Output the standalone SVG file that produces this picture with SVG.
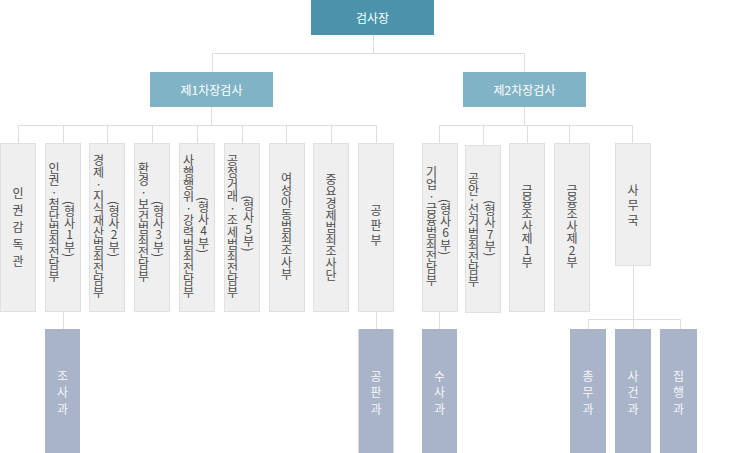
<svg xmlns="http://www.w3.org/2000/svg" width="743" height="453" viewBox="0 0 743 453">
<style>
.top{fill:#4a93aa}
.mid{fill:#7fb3c5}
.lv3{fill:#efefef;stroke:#e0e0e0;stroke-width:1}
.sub{fill:#a9b4c9}
.con line{stroke:#dddddd;stroke-width:1}
.ht{font-family:"Noto Sans CJK KR","Noto Sans",sans-serif;font-size:12px;fill:#ffffff;text-anchor:middle;dominant-baseline:central}
.vt{font-family:"Noto Sans CJK KR","Noto Sans",sans-serif;font-size:12px;fill:#4d4d4d;text-anchor:middle;writing-mode:vertical-rl;text-orientation:mixed}
.up{text-orientation:upright}
.vw{fill:#f4f6f9}
</style>
<g class="con" id="connectors">
<line x1="373.5" y1="35" x2="373.5" y2="53.5"/>
<line x1="212.5" y1="53.5" x2="524.5" y2="53.5"/>
<line x1="212.5" y1="53.5" x2="212.5" y2="72"/>
<line x1="524.5" y1="53.5" x2="524.5" y2="72"/>
<line x1="211.5" y1="107" x2="211.5" y2="125.5"/>
<line x1="18.5" y1="125.5" x2="376.5" y2="125.5"/>
<line x1="18.5" y1="125.5" x2="18.5" y2="143"/>
<line x1="63.5" y1="125.5" x2="63.5" y2="143"/>
<line x1="107.5" y1="125.5" x2="107.5" y2="143"/>
<line x1="152.5" y1="125.5" x2="152.5" y2="143"/>
<line x1="197.5" y1="125.5" x2="197.5" y2="143"/>
<line x1="242.5" y1="125.5" x2="242.5" y2="143"/>
<line x1="286.5" y1="125.5" x2="286.5" y2="143"/>
<line x1="331.5" y1="125.5" x2="331.5" y2="143"/>
<line x1="376.5" y1="125.5" x2="376.5" y2="143"/>
<line x1="524.5" y1="107" x2="524.5" y2="125.5"/>
<line x1="439.5" y1="125.5" x2="632.5" y2="125.5"/>
<line x1="439.5" y1="125.5" x2="439.5" y2="143"/>
<line x1="483.5" y1="125.5" x2="483.5" y2="145"/>
<line x1="527.5" y1="125.5" x2="527.5" y2="143"/>
<line x1="569.5" y1="125.5" x2="569.5" y2="143"/>
<line x1="632.5" y1="125.5" x2="632.5" y2="143"/>
<line x1="63.5" y1="311" x2="63.5" y2="329"/>
<line x1="376.5" y1="311" x2="376.5" y2="329"/>
<line x1="439.5" y1="311" x2="439.5" y2="329"/>
<line x1="633.5" y1="266" x2="633.5" y2="319.5"/>
<line x1="588.5" y1="319.5" x2="680.5" y2="319.5"/>
<line x1="588.5" y1="319.5" x2="588.5" y2="329"/>
<line x1="633.5" y1="319.5" x2="633.5" y2="329"/>
<line x1="680.5" y1="319.5" x2="680.5" y2="329"/>
</g>
<g id="n-chief"><rect class="top" x="311" y="0" width="123" height="35"/><text class="ht" x="372.5" y="17.5">검사장</text></g>
<g id="n-deputy1"><rect class="mid" x="150" y="72" width="123" height="35"/><text class="ht" x="211.5" y="89.5">제1차장검사</text></g>
<g id="n-deputy2"><rect class="mid" x="463" y="72" width="123" height="35"/><text class="ht" x="524.5" y="89.5">제2차장검사</text></g>

<g id="n-1"><rect class="lv3" x="0.5" y="143.5" width="35" height="168"/><text class="vt" x="18" y="229.5" style="letter-spacing:5px">인권감독관</text></g>
<g id="n-2"><rect class="lv3" x="45.5" y="143.5" width="35" height="168"/><text class="vt"><tspan x="54" y="222.5">인권<tspan class="up">·</tspan>첨단범죄전담부</tspan><tspan x="69.5" y="229">(형사<tspan class="up">1</tspan>부)</tspan></text></g>
<g id="n-3"><rect class="lv3" x="89.5" y="143.5" width="35" height="168"/><text class="vt"><tspan x="98.5" y="226.5">경제<tspan class="up">·</tspan>지식재산범죄전담부</tspan><tspan x="114" y="229">(형사<tspan class="up">2</tspan>부)</tspan></text></g>
<g id="n-4"><rect class="lv3" x="134.5" y="143.5" width="35" height="168"/><text class="vt"><tspan x="143.5" y="222.5">환경<tspan class="up">·</tspan>보건범죄전담부</tspan><tspan x="158.5" y="229">(형사<tspan class="up">3</tspan>부)</tspan></text></g>
<g id="n-5"><rect class="lv3" x="179.5" y="143.5" width="35" height="168"/><text class="vt"><tspan x="188.5" y="226.5">사행행위<tspan class="up">·</tspan>강력범죄전담부</tspan><tspan x="203.5" y="225">(형사<tspan class="up">4</tspan>부)</tspan></text></g>
<g id="n-6"><rect class="lv3" x="224.5" y="143.5" width="35" height="168"/><text class="vt"><tspan x="232.5" y="226">공정거래<tspan class="up">·</tspan>조세범죄전담부</tspan><tspan x="248.5" y="223.5">(형사<tspan class="up">5</tspan>부)</tspan></text></g>
<g id="n-7"><rect class="lv3" x="269.5" y="143.5" width="35" height="168"/><text class="vt" x="286.5" y="226">여성아동범죄조사부</text></g>
<g id="n-8"><rect class="lv3" x="313.5" y="143.5" width="35" height="168"/><text class="vt" x="331" y="227">중요경제범죄조사단</text></g>
<g id="n-9"><rect class="lv3" x="358.5" y="143.5" width="35" height="168"/><text class="vt" x="376" y="226.5" style="letter-spacing:3px">공판부</text></g>

<g id="n-10"><rect class="lv3" x="422.5" y="143.5" width="35" height="168"/><text class="vt"><tspan x="431.5" y="226.5">기업<tspan class="up">·</tspan>금융범죄전담부</tspan><tspan x="445.5" y="227">(형사<tspan class="up">6</tspan>부)</tspan></text></g>
<g id="n-11"><rect class="lv3" x="465.5" y="145.5" width="35" height="167"/><text class="vt"><tspan x="473.5" y="230">공안·선거범죄전담부</tspan><tspan x="490" y="228">(형사<tspan class="up">7</tspan>부)</tspan></text></g>
<g id="n-12"><rect class="lv3" x="509.5" y="143.5" width="35" height="168"/><text class="vt" x="527" y="226.5">금융조사제<tspan class="up">1</tspan>부</text></g>
<g id="n-13"><rect class="lv3" x="554.5" y="143.5" width="35" height="168"/><text class="vt" x="572" y="226">금융조사제<tspan class="up">2</tspan>부</text></g>
<g id="n-14"><rect class="lv3" x="615.5" y="143.5" width="35" height="122"/><text class="vt" x="633" y="206.5" style="letter-spacing:3px">사무국</text></g>

<g id="n-s1"><rect class="sub" x="45" y="329" width="35" height="124"/><text class="vt vw" x="62.5" y="395" style="letter-spacing:4.5px">조사과</text></g>
<g id="n-s2"><rect class="sub" x="358.5" y="329" width="35" height="124"/><text class="vt vw" x="376" y="395" style="letter-spacing:4.5px">공판과</text></g>
<g id="n-s3"><rect class="sub" x="422" y="329" width="35" height="124"/><text class="vt vw" x="439.5" y="395" style="letter-spacing:4.5px">수사과</text></g>
<g id="n-s4"><rect class="sub" x="570" y="329" width="36" height="124"/><text class="vt vw" x="588" y="395" style="letter-spacing:4.5px">총무과</text></g>
<g id="n-s5"><rect class="sub" x="615" y="329" width="36" height="124"/><text class="vt vw" x="633" y="395" style="letter-spacing:4.5px">사건과</text></g>
<g id="n-s6"><rect class="sub" x="660" y="329" width="37" height="124"/><text class="vt vw" x="678.5" y="395" style="letter-spacing:4.5px">집행과</text></g>
</svg>
